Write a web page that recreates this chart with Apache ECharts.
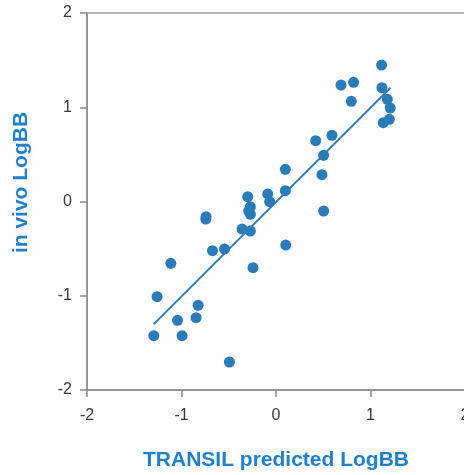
<!DOCTYPE html>
<html>
<head>
<meta charset="utf-8">
<script src="https://cdn.jsdelivr.net/npm/echarts@6/dist/echarts.min.js"></script>
<style>html,body{margin:0;padding:0;background:#fdfdff;}#c{width:464px;height:475px;}</style>
</head>
<body>
<div id="c"></div>
<script>
const xValues = [1.117,0.688,0.821,0.797,1.121,1.178,1.209,1.199,1.135,0.420,0.592,0.504,0.099,0.486,0.099,0.504,0.103,
  -0.299,-0.088,-0.067,-0.271,-0.289,-0.271,-0.740,-0.743,-0.359,-0.271,-0.672,-0.545,-0.243,-1.113,-1.258,-0.824,-0.846,-1.042,-1.293,-0.994,-0.493];
const yValues = [1.448,1.236,1.265,1.063,1.207,1.084,0.992,0.872,0.836,0.645,0.702,0.490,0.342,0.284,0.115,-0.101,-0.462,
  0.051,0.080,-0.002,-0.055,-0.101,-0.136,-0.161,-0.186,-0.292,-0.313,-0.522,-0.504,-0.702,-0.656,-1.010,-1.102,-1.233,-1.261,-1.424,-1.424,-1.703];
const fitX = [-1.296, 1.212];
const fitY = [-1.303, 1.207];
const xTicks = [-2,-1,0,1,2];
const yTicks = [-2,-1,0,1,2];

const points = xValues.map((x,i)=>[x,yValues[i]]);
const fit = fitX.map((x,i)=>[x,fitY[i]]);
const dotColor = '#2a7bb8';
const titleColor = '#1f80cc';
const axisCommon = {
  min: -2, max: 2, interval: 1,
  axisLine: {show:true, onZero:false, lineStyle:{color:'#8a8a8a', width:1.5}},
  axisTick: {show:true, length:7, lineStyle:{color:'#8a8a8a', width:1.5}},
  splitLine: {show:false},
  axisLabel: {color:'#3a3a3a', fontSize:16, fontFamily:'Liberation Sans, Arial, sans-serif'},
  nameTextStyle: {color:titleColor, fontSize:21, fontWeight:'bold', fontFamily:'Liberation Sans, Arial, sans-serif'}
};
const chart = echarts.init(document.getElementById('c'));
chart.setOption({
  backgroundColor:'#fdfdff',
  animation:false,
  grid:{left:87, top:13, width:378, height:377, outerBoundsMode:'none', containLabel:false, show:true, borderColor:'#a0a0a0', borderWidth:1.5, backgroundColor:'transparent'},
  xAxis: Object.assign({}, axisCommon, {
    type:'value', name:'TRANSIL predicted LogBB', nameLocation:'middle', nameGap:60,
    axisLabel: Object.assign({}, axisCommon.axisLabel, {margin:18, formatter: v => xTicks.includes(v) ? String(v) : ''})
  }),
  yAxis: Object.assign({}, axisCommon, {
    type:'value', name:'in vivo LogBB', nameLocation:'middle', nameGap:55,
    nameTextStyle: Object.assign({}, axisCommon.nameTextStyle, {padding:[0,0,0,38]}),
    axisLabel: Object.assign({}, axisCommon.axisLabel, {margin:15, formatter: v => yTicks.includes(v) ? String(v) : ''})
  }),
  series:[
    {type:'line', data:fit, symbol:'none', lineStyle:{color:dotColor, width:1.8}, z:1},
    {type:'scatter', data:points, symbolSize:11, itemStyle:{color:dotColor, opacity:1}, z:2}
  ]
});
</script>
</body>
</html>
